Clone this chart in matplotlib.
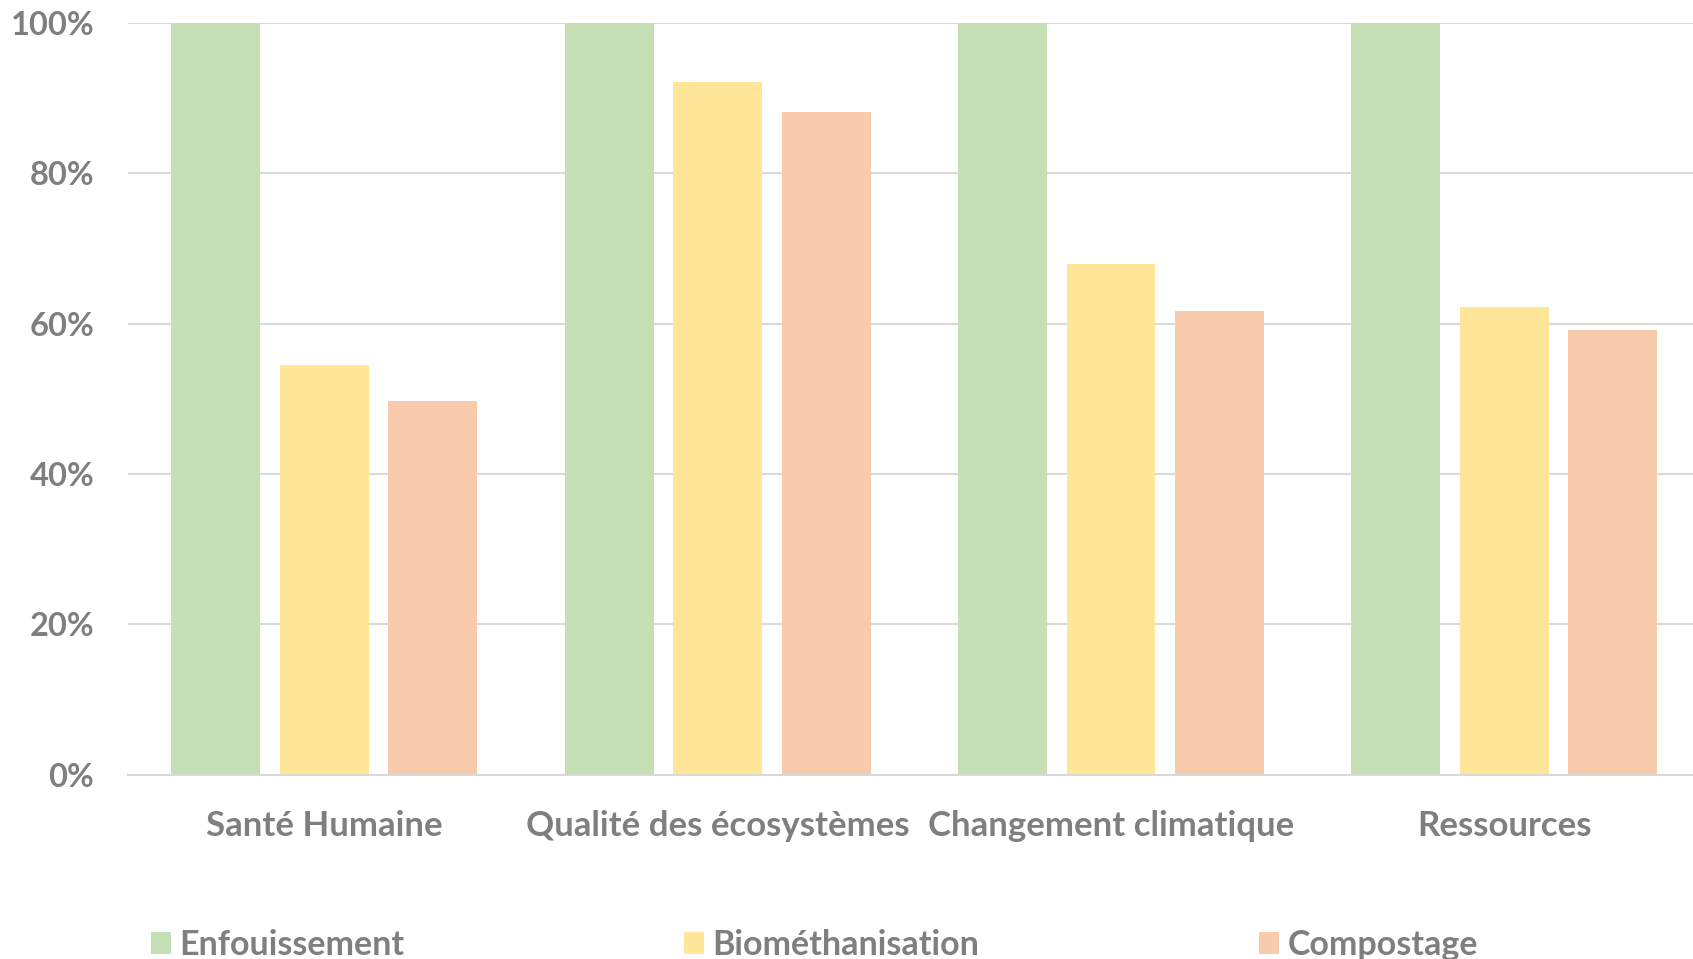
import matplotlib
matplotlib.use("Agg")
import matplotlib.pyplot as plt
import numpy as np
from matplotlib.patches import Patch

categories = ["Santé Humaine", "Qualité des écosystèmes", "Changement climatique", "Ressources"]
series_names = ["Enfouissement", "Biométhanisation", "Compostage"]
enfouissement = [100, 100, 100, 100]
biomethanisation = [54.5, 92.1, 67.9, 62.2]
compostage = [49.7, 88.1, 61.6, 59.2]
colors = ["#C5E0B4", "#FFE699", "#F8CBAD"]
yticks = [0, 20, 40, 60, 80, 100]

text_color = "#7F7F7F"
plt.rcParams['font.family'] = ['Lato', 'DejaVu Sans']
plt.rcParams['font.weight'] = 'bold'

fig = plt.figure(figsize=(16.93, 9.59), dpi=100)
ax = fig.add_axes([0.0754, 0.1919, 0.9293, 0.7846])

x = np.arange(len(categories))
width = 0.226
offset = 0.276
for i, (vals, name) in enumerate(zip([enfouissement, biomethanisation, compostage], series_names)):
    ax.bar(x + (i - 1) * offset, vals, width, color=colors[i], label=name, zorder=2)

ax.set_xlim(-0.5, len(categories) - 0.5)
ax.set_ylim(0, 100)
ax.set_yticks(yticks)
ax.set_yticklabels([f"{v}%" for v in yticks])
ax.set_xticks(x)
ax.set_xticklabels(categories)
ax.yaxis.grid(True, color="#D9D9D9", linewidth=1.5, zorder=0)
ax.set_axisbelow(True)
for s in ["top", "right", "left"]:
    ax.spines[s].set_visible(False)
ax.spines["bottom"].set_color("#D9D9D9")
ax.spines["bottom"].set_linewidth(1.5)
ax.tick_params(axis="both", length=0, colors=text_color)
ax.tick_params(axis="y", pad=24, labelsize=23.5)
ax.tick_params(axis="x", pad=25, labelsize=25)

handles = [Patch(facecolor=c, label=n) for c, n in zip(colors, series_names)]
leg = fig.legend(handles=handles, loc="lower left", bbox_to_anchor=(0.081, -0.016),
                 ncol=3, frameon=False, fontsize=24.5, handlelength=0.6, handleheight=0.6,
                 handletextpad=0.25, columnspacing=8.2, borderaxespad=0)
for t in leg.get_texts():
    t.set_color(text_color)

fig.savefig("out.png", dpi=100)
